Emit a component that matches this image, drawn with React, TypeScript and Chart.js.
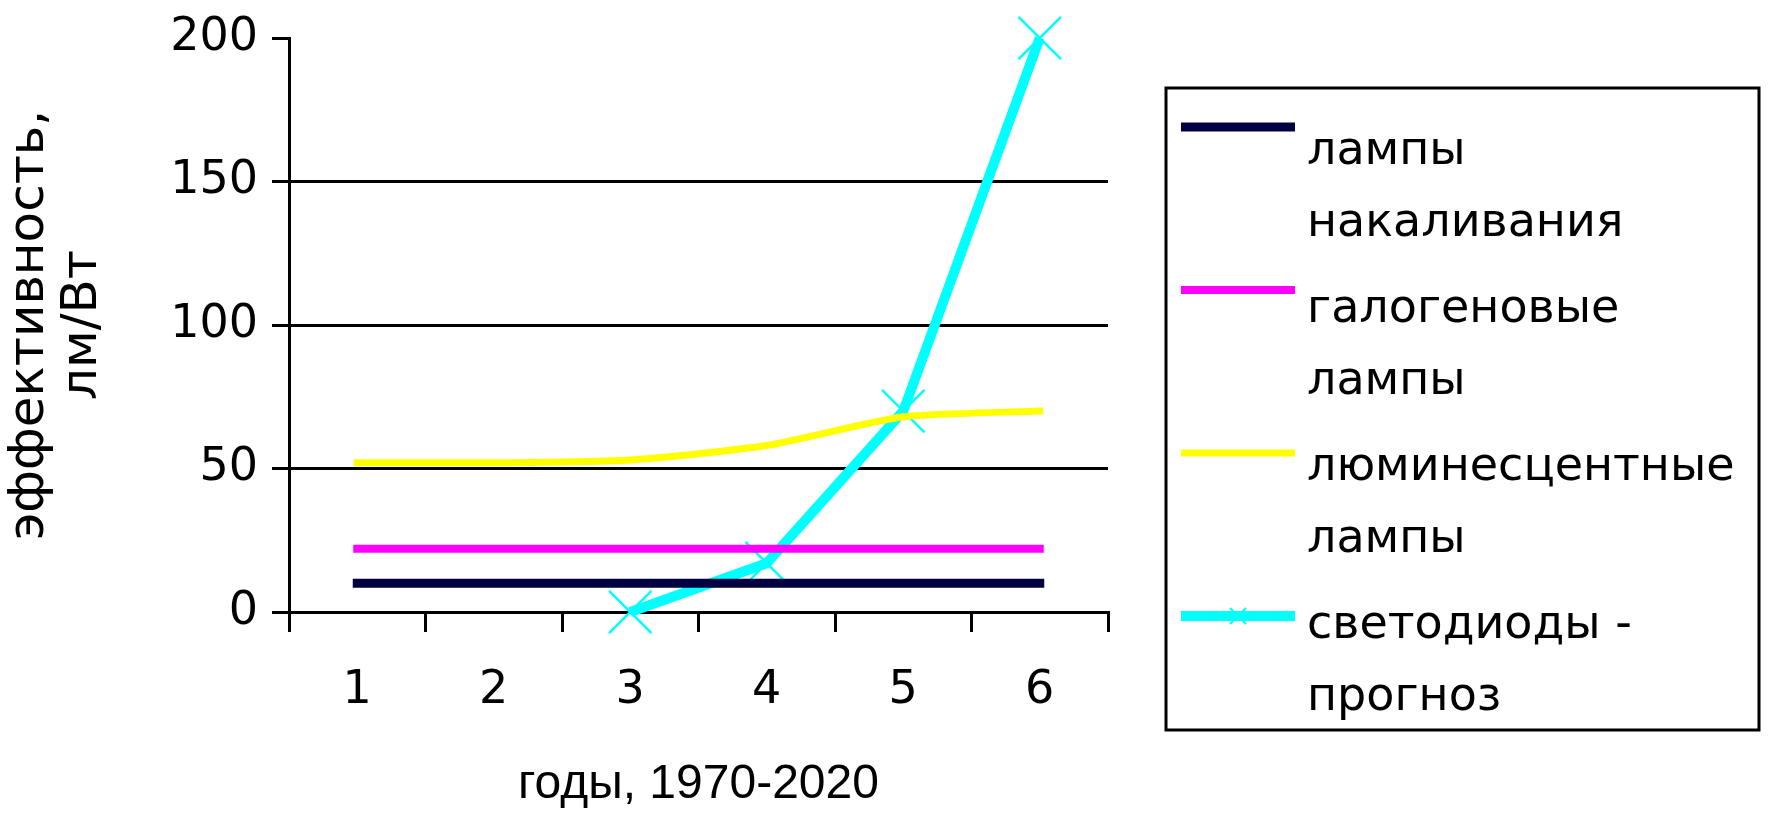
import React, { useEffect, useRef } from 'react';
import { Chart, registerables } from 'chart.js';

Chart.register(...registerables);

// ---- data ----
const categories = ['1', '2', '3', '4', '5', '6'];
const incandescent = [10, 10, 10, 10, 10, 10];
const halogen = [22, 22, 22, 22, 22, 22];
const fluorescent = [52, 52, 53, 58, 68, 70];
const led = [null, null, 0, 17, 70, 200];
const seriesLabels = [
  'лампы накаливания',
  'галогеновые лампы',
  'люминесцентные лампы',
  'светодиоды - прогноз',
];
const legendLines = [
  ['лампы', 'накаливания'],
  ['галогеновые', 'лампы'],
  ['люминесцентные', 'лампы'],
  ['светодиоды -', 'прогноз'],
];
const yMin = 0;
const yMax = 200;
const yStep = 50;
const xTitle = 'годы, 1970-2020';
const yTitle = ['эффективность,', 'лм/Вт'];

const SANS = "'Liberation Sans', Arial, sans-serif";
const WIDE = "'DejaVu Sans', Verdana, sans-serif";
const W = 1768;
const H = 822;

const boxLegend = {
  id: 'boxLegend',
  afterDraw(chart: any) {
    const ctx = chart.ctx as CanvasRenderingContext2D;
    const left = 1166;
    const top = 88;
    const right = 1759;
    const bottom = 730;
    ctx.save();
    ctx.fillStyle = '#ffffff';
    ctx.fillRect(left, top, right - left, bottom - top);
    ctx.strokeStyle = '#000000';
    ctx.lineWidth = 3;
    ctx.strokeRect(left, top, right - left, bottom - top);
    chart.data.datasets.forEach((ds: any, i: number) => {
      const sy = 127 + i * 163;
      ctx.strokeStyle = ds.borderColor;
      ctx.lineWidth = ds.borderWidth;
      ctx.lineCap = 'butt';
      ctx.beginPath();
      ctx.moveTo(1181, sy);
      ctx.lineTo(1295, sy);
      ctx.stroke();
      if (ds.pointStyle === 'crossRot' && ds.pointRadius > 0) {
        ctx.lineWidth = 2;
        const r = 8;
        ctx.beginPath();
        ctx.moveTo(1238 - r, sy - r);
        ctx.lineTo(1238 + r, sy + r);
        ctx.moveTo(1238 + r, sy - r);
        ctx.lineTo(1238 - r, sy + r);
        ctx.stroke();
      }
      const lines = legendLines[i];
      ctx.fillStyle = '#000000';
      ctx.font = `46px ${WIDE}`;
      ctx.textBaseline = 'middle';
      ctx.textAlign = 'left';
      lines.forEach((t, j) => {
        ctx.fillText(t, 1307, 152 + i * 158 + j * 72);
      });
    });
    ctx.restore();
  },
};

export default function App() {
  const canvasRef = useRef<HTMLCanvasElement | null>(null);

  useEffect(() => {
    const canvas = canvasRef.current;
    if (!canvas) return;
    Chart.defaults.font.family = SANS;
    Chart.defaults.color = '#000000';

    const chart = new Chart(canvas, {
      type: 'line',
      data: {
        labels: categories,
        datasets: [
          {
            label: seriesLabels[0],
            data: incandescent,
            borderColor: '#000040',
            backgroundColor: '#000040',
            borderWidth: 9,
            pointRadius: 0,
            tension: 0,
            borderCapStyle: 'square',
            clip: false as any,
          },
          {
            label: seriesLabels[1],
            data: halogen,
            borderColor: '#ff00ff',
            backgroundColor: '#ff00ff',
            borderWidth: 8,
            pointRadius: 0,
            tension: 0,
            borderCapStyle: 'square',
            clip: false as any,
          },
          {
            label: seriesLabels[2],
            data: fluorescent,
            borderColor: '#ffff00',
            backgroundColor: '#ffff00',
            borderWidth: 7,
            pointRadius: 0,
            tension: 0.2,
            borderCapStyle: 'square',
            clip: false as any,
          },
          {
            label: seriesLabels[3],
            data: led,
            borderColor: '#00ffff',
            backgroundColor: '#00ffff',
            borderWidth: 10,
            pointStyle: 'crossRot',
            pointRadius: 30,
            pointBorderWidth: 2.5,
            pointBorderColor: '#00ffff',
            tension: 0,
            borderJoinStyle: 'round',
            spanGaps: false,
            clip: false as any,
          },
        ],
      },
      options: {
        responsive: false,
        animation: false,
        layout: { padding: { left: 0, top: 38, right: W - 1108, bottom: 0 } },
        plugins: {
          legend: { display: false },
          tooltip: { enabled: false },
        },
        scales: {
          x: {
            type: 'category',
            offset: true,
            grid: {
              offset: true,
              drawOnChartArea: false,
              drawTicks: true,
              tickLength: 20,
              tickWidth: 3,
              tickColor: '#000000',
              color: '#000000',
              lineWidth: 3,
            },
            border: { display: true, color: '#000000', width: 3 },
            ticks: {
              font: { size: 46, family: WIDE },
              color: '#000000',
              padding: 31,
              maxRotation: 0,
            },
            title: {
              display: true,
              text: xTitle,
              font: { size: 48, family: SANS },
              color: '#000000',
              padding: { top: 0, bottom: 8 },
            },
            afterFit: (scale: any) => {
              scale.height = H - 612;
              scale.paddingLeft = 0;
              scale.paddingRight = 0;
            },
          },
          y: {
            min: yMin,
            max: yMax,
            ticks: {
              stepSize: yStep,
              font: { size: 46, family: WIDE },
              color: '#000000',
              padding: 14,
            },
            grid: {
              color: (c: any) =>
                c.tick && c.tick.value === yMax ? 'rgba(0,0,0,0)' : '#000000',
              tickColor: '#000000',
              lineWidth: 3,
              tickWidth: 3,
              tickLength: 17,
              drawTicks: true,
            },
            border: { display: true, color: '#000000', width: 3 },
            title: {
              display: true,
              text: yTitle,
              font: { size: 50, family: WIDE, lineHeight: 1.06 },
              color: '#000000',
              padding: { top: 4, bottom: 0 },
            },
            afterFit: (scale: any) => {
              scale.width = 289;
              scale.paddingTop = 0;
              scale.paddingBottom = 0;
            },
          },
        },
      },
      plugins: [boxLegend],
    });

    return () => {
      chart.destroy();
    };
  }, []);

  return (
    <div
      style={{
        position: 'fixed',
        left: 0,
        top: 0,
        width: W,
        height: H,
        background: '#ffffff',
      }}
    >
      <canvas
        ref={canvasRef}
        width={W}
        height={H}
        style={{ display: 'block', width: W, height: H }}
      />
    </div>
  );
}
